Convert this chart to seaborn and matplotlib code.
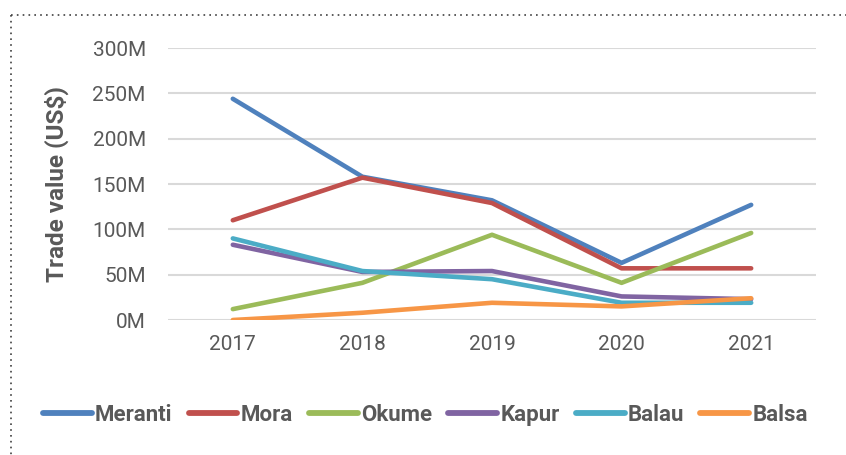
import matplotlib
matplotlib.use("Agg")
import matplotlib.pyplot as plt
import seaborn as sns
import pandas as pd
from matplotlib.lines import Line2D

years = ["2017", "2018", "2019", "2020", "2021"]
meranti = [244, 158, 132, 63, 127]
mora = [110, 157, 129, 57, 57]
okume = [12, 41, 94, 41, 96]
kapur = [83, 53, 54, 26, 23]
balau = [90, 54, 45, 19, 19]
balsa = [0, 8, 19, 15, 24]
series_names = ["Meranti", "Mora", "Okume", "Kapur", "Balau", "Balsa"]
colors = ["#4F81BD", "#C0504D", "#9BBB59", "#8064A2", "#4BACC6", "#F79646"]
yticks = [0, 50, 100, 150, 200, 250, 300]
ytick_labels = ["0M", "50M", "100M", "150M", "200M", "250M", "300M"]

values = [meranti, mora, okume, kapur, balau, balsa]
rows = []
for name, vals in zip(series_names, values):
    for i, v in enumerate(vals):
        rows.append({"year": i, "value": v, "species": name})
df = pd.DataFrame(rows)

sns.set_theme(style="white")
plt.rcParams["font.family"] = ["Roboto", "DejaVu Sans"]

fig = plt.figure(figsize=(8.46, 4.55), dpi=100)
ax = fig.add_axes([0.1986, 0.2967, 0.7659, 0.5978])

sns.lineplot(data=df, x="year", y="value", hue="species", hue_order=series_names,
             palette=colors, linewidth=3.3, ax=ax, legend=False,
             solid_capstyle="round", solid_joinstyle="round", zorder=3)

ax.set_xlim(-0.5, 4.5)
ax.set_ylim(0, 300)
ax.set_xticks(range(len(years)))
ax.set_xticklabels(years)
ax.set_yticks(yticks)
ax.set_yticklabels(ytick_labels)
ax.tick_params(axis="both", length=0, labelsize=15, labelcolor="#595959")
ax.tick_params(axis="y", pad=16)
ax.tick_params(axis="x", pad=11)
ax.yaxis.grid(True, color="#D9D9D9", linewidth=1.5, zorder=0)
ax.xaxis.grid(False)
for s in ax.spines.values():
    s.set_visible(False)
ax.set_xlabel("")
ax.set_ylabel("Trade value (US$)", fontsize=17.5, fontweight="bold", color="#595959", labelpad=17)

handles = [Line2D([0], [0], color=c, linewidth=4.2, solid_capstyle="round") for c in colors]
leg = fig.legend(handles, series_names, loc="center", bbox_to_anchor=(0.503, 0.088), ncol=6,
                 frameon=False, handlelength=2.2, handletextpad=0.15, columnspacing=0.72,
                 prop={"size": 16, "weight": "bold"})
for t in leg.get_texts():
    t.set_color("#595959")

# dotted border (top and left)
fig.add_artist(Line2D([0.013, 1.0], [0.967, 0.967], transform=fig.transFigure,
                      color="#404040", linestyle=(0, (1, 2.5)), linewidth=1.2))
fig.add_artist(Line2D([0.013, 0.013], [0.967, 0.0], transform=fig.transFigure,
                      color="#404040", linestyle=(0, (1, 2.5)), linewidth=1.2))

fig.savefig("out.png", dpi=100)
